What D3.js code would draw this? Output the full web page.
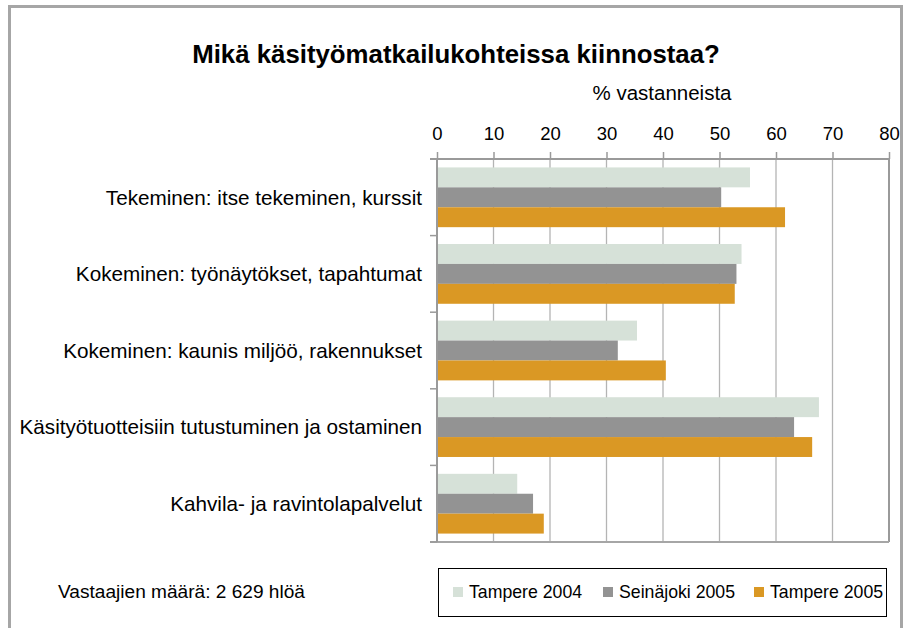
<!DOCTYPE html>
<html>
<head>
<meta charset="utf-8">
<script src="https://cdn.jsdelivr.net/npm/d3@7/dist/d3.min.js"></script>
<style>
  body { margin: 0; background: #fff; }
  text { font-family: "Liberation Sans", Arial, sans-serif; fill: #000; }
</style>
</head>
<body>
<script>
// data
const categories = [
  "Tekeminen: itse tekeminen, kurssit",
  "Kokeminen: työnäytökset, tapahtumat",
  "Kokeminen: kaunis miljöö, rakennukset",
  "Käsityötuotteisiin tutustuminen ja ostaminen",
  "Kahvila- ja ravintolapalvelut"
];
const seriesNames = ["Tampere 2004", "Seinäjoki 2005", "Tampere 2005"];
const tampere2004 = [55.4, 53.9, 35.4, 67.6, 14.2];
const seinajoki2005 = [50.3, 53.0, 32.0, 63.2, 17.0];
const tampere2005 = [61.6, 52.7, 40.5, 66.4, 18.9];
const xTicks = [0, 10, 20, 30, 40, 50, 60, 70, 80];
const colors = ["#d6e1d8", "#939393", "#da9824"];

const W = 907, H = 628;
const svg = d3.select("body").append("svg")
  .attr("width", W)
  .attr("height", H);

// outer frame
svg.append("rect")
  .attr("x", 9.5).attr("y", 6.5)
  .attr("width", 892).attr("height", 700)
  .attr("fill", "none")
  .attr("stroke", "#a6a6a6")
  .attr("stroke-width", 3);

svg.append("text")
  .attr("x", 456).attr("y", 63)
  .attr("text-anchor", "middle")
  .attr("font-weight", "bold")
  .attr("font-size", 25.8)
  .text("Mikä käsityömatkailukohteissa kiinnostaa?");

let m = { top: 159, left: 437, right: 889, bottom: 542 };

let x = d3.scaleLinear().domain([0, 80]).range([m.left, m.right]);
let y = d3.scaleBand().domain(categories).range([m.top, m.bottom])
  .paddingInner(0.22).paddingOuter(0.11);
let ySub = d3.scaleBand().domain(d3.range(3)).range([0, y.bandwidth()]);

// grid
svg.append("g").selectAll("line")
  .data(xTicks.slice(1))
  .join("line")
  .attr("x1", d => x(d)).attr("x2", d => x(d))
  .attr("y1", m.top).attr("y2", m.bottom)
  .attr("stroke", d => d == 80 ? "#9a9a9a" : "#b4b4b4")
  .attr("stroke-width", d => d == 80 ? 2 : 1.3);

// bars
let series = [tampere2004, seinajoki2005, tampere2005];
series.forEach(function(vals, s) {
  svg.append("g").selectAll("rect")
    .data(vals)
    .join("rect")
    .attr("x", x(0))
    .attr("y", (d, i) => y(categories[i]) + ySub(s))
    .attr("width", d => x(d) - x(0))
    .attr("height", ySub.bandwidth())
    .attr("fill", colors[s]);
});

// top axis
let xAxis = svg.append("g")
  .attr("transform", "translate(0," + m.top + ")")
  .call(d3.axisTop(x).tickValues(xTicks).tickSize(7).tickSizeOuter(0).tickPadding(12));
xAxis.select(".domain").remove();
xAxis.selectAll("line").attr("stroke", "#9a9a9a").attr("stroke-width", 1.5);
xAxis.selectAll("text")
  .attr("font-size", 18.5)
  .attr("font-family", "Liberation Sans, Arial, sans-serif")
  .attr("fill", "#000");

// axis lines
let bounds = [m.top].concat(categories.map(c => y(c) + y.bandwidth() + y.step() * y.paddingInner() / 2));
bounds[bounds.length - 1] = m.bottom;
svg.append("line")
  .attr("x1", m.left - 7).attr("x2", m.right)
  .attr("y1", m.top).attr("y2", m.top)
  .attr("stroke", "#9a9a9a").attr("stroke-width", 2);
svg.append("line")
  .attr("x1", m.left - 7).attr("x2", m.right)
  .attr("y1", m.bottom).attr("y2", m.bottom)
  .attr("stroke", "#a6a6a6").attr("stroke-width", 2);
svg.append("line")
  .attr("x1", m.left).attr("x2", m.left)
  .attr("y1", m.top).attr("y2", m.bottom)
  .attr("stroke", "#9a9a9a").attr("stroke-width", 2);
svg.append("g").selectAll("line")
  .data(bounds)
  .join("line")
  .attr("x1", m.left - 7).attr("x2", m.left)
  .attr("y1", d => d).attr("y2", d => d)
  .attr("stroke", "#9a9a9a").attr("stroke-width", 1.5);

svg.append("text")
  .attr("x", 662).attr("y", 100)
  .attr("text-anchor", "middle")
  .attr("font-size", 20.5)
  .text("% vastanneista");

// category labels
svg.append("g").selectAll("text")
  .data(categories)
  .join("text")
  .attr("x", 422)
  .attr("y", d => y(d) + y.bandwidth() / 2)
  .attr("dy", "0.35em")
  .attr("text-anchor", "end")
  .attr("font-size", 20.7)
  .text(d => d);

svg.append("text")
  .attr("x", 58).attr("y", 598)
  .attr("font-size", 19.1)
  .text("Vastaajien määrä: 2 629 hlöä");

// legend
let lg = svg.append("g");
lg.append("rect")
  .attr("x", 438.5).attr("y", 568.5)
  .attr("width", 448).attr("height", 48)
  .attr("fill", "#fff").attr("stroke", "#000").attr("stroke-width", 1);
let legX = [453, 603, 754];
seriesNames.forEach(function(n, i) {
  lg.append("rect")
    .attr("x", legX[i]).attr("y", 587)
    .attr("width", 10).attr("height", 10)
    .attr("fill", colors[i]);
  lg.append("text")
    .attr("x", legX[i] + 16).attr("y", 598)
    .attr("font-size", 17.7)
    .text(n);
});
</script>
</body>
</html>
